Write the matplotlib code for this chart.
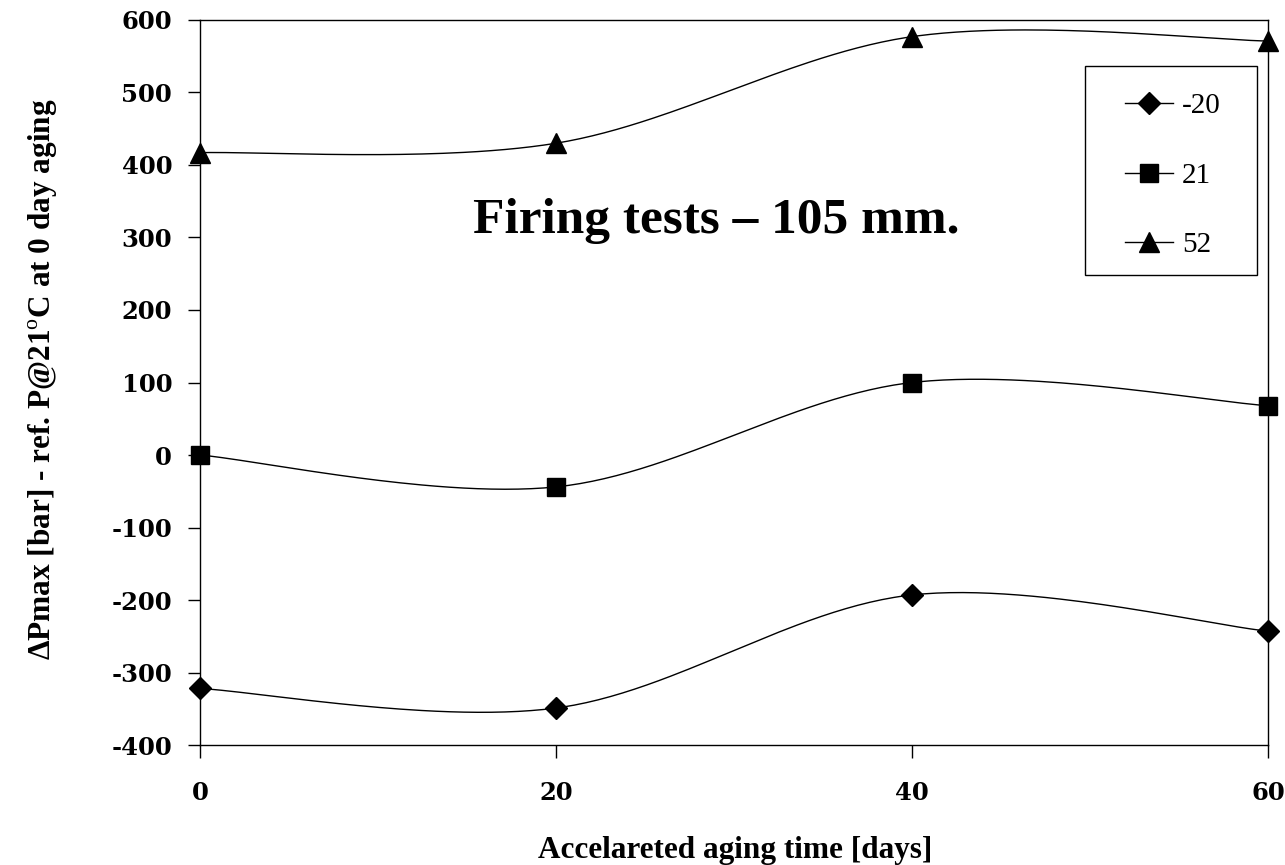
import numpy as np
import matplotlib
matplotlib.use("Agg")
import matplotlib.pyplot as plt
from matplotlib.lines import Line2D
from matplotlib.patches import Rectangle

days = [0, 20, 40, 60]
series_labels = ["-20", "21", "52"]
vals_m20 = [-322, -349, -193, -243]
vals_21 = [0, -44, 100, 68]
vals_52 = [417, 430, 577, 571]
markers = ["D", "s", "^"]
marker_sizes = [11, 13.5, 15]

serif = "Liberation Serif"
plt.rcParams["axes.unicode_minus"] = False
plt.rcParams["mathtext.fontset"] = "custom"
plt.rcParams["mathtext.rm"] = serif


def smooth(xs, ys, n=60):
    """Cubic Bezier smoothing through every point (spreadsheet style)."""
    p = np.column_stack([xs, ys]).astype(float)
    ext = np.vstack([p[0], p, p[-1]])
    out = []
    t = np.linspace(0, 1, n)[:, None]
    for i in range(1, len(ext) - 2):
        p0, p1, p2, p3 = ext[i - 1], ext[i], ext[i + 1], ext[i + 2]
        c1 = p1 + (p2 - p0) / 6.0
        c2 = p2 - (p3 - p1) / 6.0
        seg = ((1 - t) ** 3) * p1 + 3 * ((1 - t) ** 2) * t * c1 + 3 * (1 - t) * t ** 2 * c2 + t ** 3 * p2
        out.append(seg if i == 1 else seg[1:])
    pts = np.vstack(out)
    return pts[:, 0], pts[:, 1]


fig = plt.figure(figsize=(12.85, 8.65), dpi=100)
ax = fig.add_axes([0.1556, 0.1387, 0.8312, 0.8382])

handles = []
for ys, mk, ms, lab in zip([vals_m20, vals_21, vals_52], markers, marker_sizes, series_labels):
    sx, sy = smooth(days, ys)
    ax.plot(sx, sy, color="black", lw=1.0, zorder=2, clip_on=False)
    ax.plot(days, ys, linestyle="none", marker=mk, ms=ms, color="black", zorder=3, clip_on=False)
    handles.append(Line2D([], [], color="black", lw=1.0, marker=mk, ms=ms, label=lab))

ax.set_xlim(0, 60)
ax.set_ylim(-400, 600)
ax.set_xticks(days)
ax.set_yticks(np.arange(-400, 601, 100))
for s in ax.spines.values():
    s.set_linewidth(1.0)
    s.set_color("black")
ax.tick_params(axis="both", direction="out", length=9, width=1.0, colors="black")
ax.tick_params(axis="y", pad=11)
ax.tick_params(axis="x", pad=17)
for lbl in ax.get_xticklabels() + ax.get_yticklabels():
    lbl.set_fontfamily("DejaVu Serif")
    lbl.set_fontweight("bold")
    lbl.set_fontsize(17.5)

ax.set_xlabel("Accelareted aging time [days]", fontfamily=serif, fontweight="bold",
              fontsize=22.5)
ax.xaxis.set_label_coords(0.501, -0.125)
ax.set_ylabel("\u0394Pmax [bar] - ref. P@21$^{\\rm o}$C at 0 day aging", fontfamily=serif,
              fontweight="bold", fontsize=22.5)
ax.yaxis.set_label_coords(-0.131, 0.505)

ax.text(0.483, 0.706, "Firing tests \u2013 105 mm.", transform=ax.transAxes, ha="center",
        va="baseline", fontfamily=serif, fontweight="bold", fontsize=37)

# legend entries without frame; the box is drawn separately
leg = fig.legend(handles=handles, loc="upper left", bbox_to_anchor=(1125 / 1285, 1 - 93 / 865),
                 frameon=False, prop={"family": serif, "size": 21}, handlelength=1.65,
                 labelspacing=1.47, borderpad=0, handletextpad=0.3, borderaxespad=0)
fig.patches.append(Rectangle((1085 / 1285, 1 - 275 / 865), 172 / 1285, 209 / 865,
                             transform=fig.transFigure, fill=False, edgecolor="black",
                             linewidth=1.0))

fig.savefig("out.png", dpi=100)
